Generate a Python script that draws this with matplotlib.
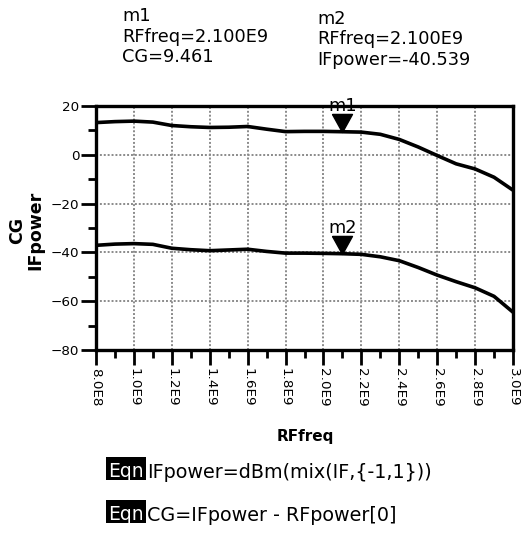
import matplotlib
matplotlib.use("Agg")
import matplotlib.pyplot as plt
from matplotlib.ticker import MultipleLocator
from matplotlib.patches import Rectangle

plt.rcParams['font.family'] = ['DejaVu Sans']

# Data
rf_freq = [0.8e9, 0.9e9, 1.0e9, 1.1e9, 1.2e9, 1.3e9, 1.4e9, 1.5e9, 1.6e9, 1.7e9,
           1.8e9, 1.9e9, 2.0e9, 2.1e9, 2.2e9, 2.3e9, 2.4e9, 2.5e9, 2.6e9, 2.7e9,
           2.8e9, 2.9e9, 3.0e9]
cg = [13.2, 13.6, 13.8, 13.4, 12.0, 11.5, 11.2, 11.3, 11.6, 10.5,
      9.5, 9.6, 9.6, 9.461, 9.3, 8.4, 6.3, 3.2, -0.3, -3.7,
      -5.8, -9.2, -14.5]
ifpower = [-37.1, -36.6, -36.4, -36.7, -38.3, -38.9, -39.3, -39.0, -38.7, -39.6,
           -40.3, -40.3, -40.4, -40.539, -40.8, -41.8, -43.4, -46.2, -49.3, -52.0,
           -54.5, -58.0, -64.5]
marker_freq = 2.1e9
m1_value = 9.461
m2_value = -40.539
x_tick_labels = ["8.0E8", "1.0E9", "1.2E9", "1.4E9", "1.6E9", "1.8E9",
                 "2.0E9", "2.2E9", "2.4E9", "2.6E9", "2.8E9", "3.0E9"]
equations = ["IFpower=dBm(mix(IF,{-1,1}))", "CG=IFpower - RFpower[0]"]

W, H = 524, 533
fig = plt.figure(figsize=(W / 100, H / 100), dpi=100)
ax = fig.add_axes([96 / W, 1 - 350 / H, (513 - 96) / W, (350 - 106) / H])

ax.plot(rf_freq, cg, color='black', lw=2.6, zorder=3)
ax.plot(rf_freq, ifpower, color='black', lw=2.6, zorder=3)

ax.set_xlim(0.8e9, 3.0e9)
ax.set_ylim(-80, 20)

ax.xaxis.set_minor_locator(MultipleLocator(0.1e9))
ax.yaxis.set_major_locator(MultipleLocator(20))
ax.yaxis.set_minor_locator(MultipleLocator(10))
ax.set_xticks([0.8e9 + 0.2e9 * i for i in range(len(x_tick_labels))])
ax.set_xticklabels(x_tick_labels, rotation=270, fontsize=9.7)
ax.tick_params(axis='y', labelsize=9.7)

ax.tick_params(which='major', direction='out', length=11, width=2, color='black', pad=1)
ax.tick_params(which='minor', direction='out', length=5.5, width=2, color='black')
ax.tick_params(axis='x', which='major', pad=2)

ax.grid(True, which='major', color='#8a8a8a', linestyle=(0, (1, 1)), linewidth=1.4, zorder=1)
for s in ax.spines.values():
    s.set_linewidth(2.4)
    s.set_color('black')

ax.set_xlabel("RFfreq", fontsize=11, fontweight='bold')
ax.xaxis.set_label_coords((305 - 96) / 417, -(437 - 350) / 244)
ax.xaxis.label.set_va('center')
ax.set_ylabel("CG\nIFpower", fontsize=12.5, fontweight='bold', linespacing=1.05)
ax.yaxis.set_label_coords((26 - 96) / 417, 0.49)
ax.yaxis.label.set_va('center')

# markers: inverted triangle with tip on the curve
tri = [(-1.05, 1.9), (1.05, 1.9), (0, 0), (-1.05, 1.9)]
for val, name in [(m1_value, "m1"), (m2_value, "m2")]:
    ax.plot([marker_freq], [val], marker=tri, markersize=26, color='black',
            zorder=4, clip_on=False)
    ax.annotate(name, (marker_freq, val), xytext=(0, 15), textcoords='offset points',
                ha='center', va='baseline', fontsize=12.8, annotation_clip=False)

def ftext(x, y, s, **kw):
    return fig.text(x / W, 1 - y / H, s, **kw)

# marker readouts
for i, s in enumerate(["m1", "RFfreq=2.100E9", "CG=%.3f" % m1_value]):
    ftext(122, 21 + 20.5 * i, s, fontsize=12.8, va='baseline', ha='left')
for i, s in enumerate(["m2", "RFfreq=2.100E9", "IFpower=%.3f" % m2_value]):
    ftext(317, 24 + 20.5 * i, s, fontsize=12.8, va='baseline', ha='left')

# equations
for (top, base), s in zip([(457, 478), (500, 521)], equations):
    fig.patches.append(Rectangle((106 / W, 1 - (top + 23) / H), 40 / W, 23 / H,
                                 transform=fig.transFigure, facecolor='black',
                                 edgecolor='none'))
    ftext(126, base - 1, "Eqn", fontsize=13.5, color='white', va='baseline', ha='center')
    ftext(147, base, s, fontsize=13.8, va='baseline', ha='left')

fig.savefig("out.png", dpi=100)
